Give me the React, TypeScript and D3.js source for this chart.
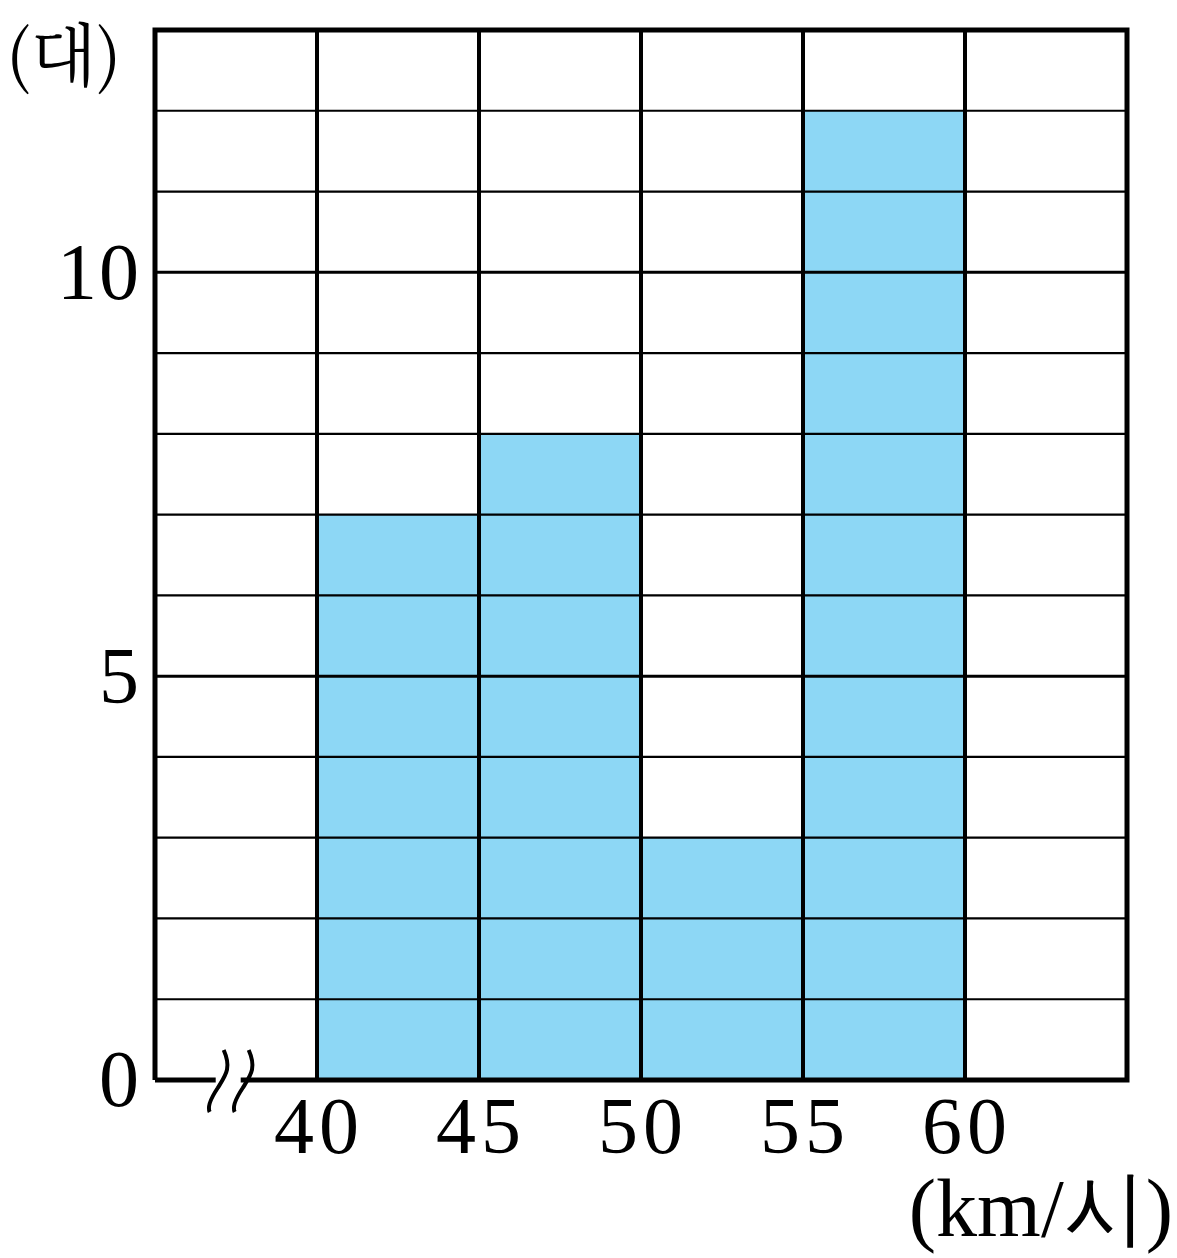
import React from "react";
import * as d3 from "d3";

const binStarts = [40, 45, 50, 55];
const counts = [7, 8, 3, 12];
const xTicks = [40, 45, 50, 55, 60];
const yTicks = [0, 5, 10];
const yLabel = "(대)";
const xLabel = "(km/시)";

const W = 1177;
const H = 1258;
const x = d3.scaleLinear().domain([35, 65]).range([155, 1127]);
const y = d3.scaleLinear().domain([0, 13]).range([1080, 30]);
const binW = 5;
const fill = "#8dd7f5";
const serif = "'Liberation Serif', 'DejaVu Serif', serif";
const kfont = "'Noto Serif CJK KR', 'Noto Sans CJK KR', serif";

export default function App() {
  const hLines = d3.range(1, 13);
  const bx0 = x(36.75);
  const gap = 25;
  const breakPath = (ox: number) => {
    const p = d3.path();
    p.moveTo(ox + 12, y(0) - 30);
    p.bezierCurveTo(ox + 20, y(0) - 12, ox + 14, y(0) - 5, ox + 6, y(0) + 8);
    p.bezierCurveTo(ox - 2, y(0) + 20, ox - 4, y(0) + 28, ox - 2, y(0) + 32);
    return p.toString();
  };
  return (
    <svg width={W} height={H} style={{ position: "absolute", left: 0, top: 0 }}>
      <rect x={0} y={0} width={W} height={H} fill="#fff" />
      {binStarts.map((b, i) => (
        <rect key={b} x={x(b)} y={y(counts[i])} width={x(b + binW) - x(b)} height={y(0) - y(counts[i])} fill={fill} />
      ))}
      {hLines.map((v) => (
        <line key={v} x1={x(35)} x2={x(65)} y1={y(v)} y2={y(v)} stroke="#000" strokeWidth={v % 5 === 0 ? 3 : 2.2} />
      ))}
      {xTicks.map((v) => (
        <line key={v} x1={x(v)} x2={x(v)} y1={y(0)} y2={y(13)} stroke="#000" strokeWidth={4} />
      ))}
      <path
        d={`M${x(35)},${y(0)}V${y(13)}H${x(65)}V${y(0)}H${bx0 + gap + 4}M${bx0 + 4},${y(0)}H${x(35)}`}
        fill="none"
        stroke="#000"
        strokeWidth={5}
      />
      <rect x={bx0 + 6} y={y(0) - 4} width={gap - 4} height={8} fill="#fff" />
      <path d={breakPath(bx0)} fill="none" stroke="#000" strokeWidth={4} />
      <path d={breakPath(bx0 + gap)} fill="none" stroke="#000" strokeWidth={4} />
      {yTicks.map((v) => (
        <text key={v} x={141} y={y(v)} dy="0.33em" textAnchor="end" fontFamily={serif} fontSize={80} letterSpacing={2}>
          {v}
        </text>
      ))}
      {xTicks.map((v) => (
        <text key={v} x={x(v) + 2} y={1153} textAnchor="middle" fontFamily={serif} fontSize={80} letterSpacing={5}>
          {v}
        </text>
      ))}
      <text x={6} y={80} fontFamily={kfont} fontSize={68}>
        {yLabel}
      </text>
      <text x={1173} y={1236} textAnchor="end" fontFamily={serif} fontSize={82}>
        {xLabel}
      </text>
    </svg>
  );
}
